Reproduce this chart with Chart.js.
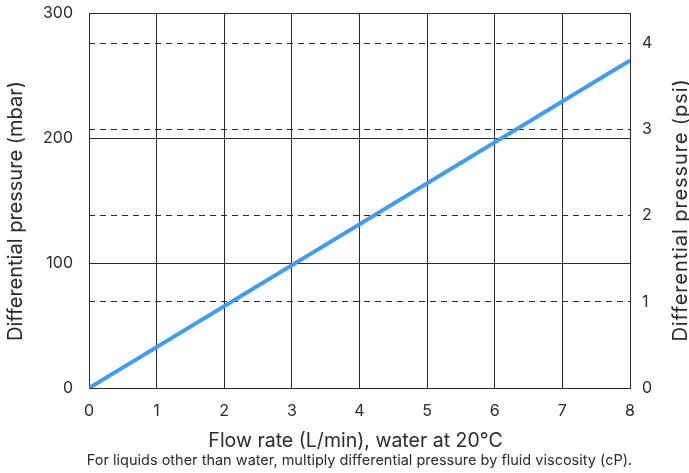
<!DOCTYPE html>
<html>
<head>
<meta charset="utf-8">
<script src="https://cdn.jsdelivr.net/npm/chart.js@4/dist/chart.umd.min.js"></script>
<style>
  html, body { margin: 0; padding: 0; background: #fff; }
  #wrap { width: 689px; height: 473px; }
</style>
</head>
<body>
<div id="wrap"><canvas id="c"></canvas></div>
<script>
// data
var flowRate = [0, 8];          // L/min
var pressure = [0, 262];        // mbar
var mbarTicks = [0, 100, 200, 300];
var psiTicks = [0, 1, 2, 3, 4];
var flowTicks = [0, 1, 2, 3, 4, 5, 6, 7, 8];
var MBAR_PER_PSI = 68.9476;

var ink = '#2b2b2b';
var fontFam = 'Inter, "Noto Sans", sans-serif';

// axis titles + footnote drawn by hand (right title reads bottom-to-top,
// and the footnote sits centred under the plot, not the canvas)
function txt(ctx, s, x, y, size, rot, spacing) {
    ctx.save();
    ctx.translate(x, y);
    if (rot) ctx.rotate(rot);
    ctx.fillStyle = ink;
    ctx.font = size + 'px ' + fontFam;
    if (spacing) ctx.letterSpacing = spacing;
    ctx.textAlign = 'center';
    ctx.textBaseline = 'alphabetic';
    ctx.fillText(s, 0, 0);
    ctx.restore();
}

var titles = {
    id: 'titles',
    afterDraw: function (chart) {
        var ctx = chart.ctx;
        var a = chart.chartArea;
        var mid = (a.left + a.right) / 2;
        txt(ctx, 'Differential pressure (mbar)', 22, 211, 20, -Math.PI / 2);
        txt(ctx, 'Differential pressure (psi)', 687, 210, 20, -Math.PI / 2, '0.9px');
        txt(ctx, 'Flow rate (L/min), water at 20°C', mid - 4, 447, 19.5);
        txt(ctx, 'For liquids other than water, multiply differential pressure by fluid viscosity (cP).', mid, 465, 14.5);
    }
};

function fixBox(w, h) {
    return function (s) {
        if (w) s.width = w;
        if (h) s.height = h;
        s.paddingTop = 0; s.paddingBottom = 0;
        s.paddingLeft = 0; s.paddingRight = 0;
    };
}

var pts = flowRate.map(function (x, i) { return {x: x, y: pressure[i]}; });

new Chart(document.getElementById('c'), {
    type: 'line',
    data: {
        datasets: [{
            data: pts,
            borderColor: '#3d9cf5',
            borderWidth: 4,
            pointRadius: 0,
            tension: 0,
            yAxisID: 'y'
        }]
    },
    options: {
        responsive: true,
        maintainAspectRatio: false,
        animation: false,
        layout: { padding: { top: 13, right: 0, left: 0, bottom: 0 } },
        plugins: {
            legend: { display: false },
            tooltip: { enabled: false }
        },
        scales: {
            x: {
                type: 'linear',
                min: 0,
                max: 8,
                afterBuildTicks: function (s) { s.ticks = flowTicks.map(function (v) { return {value: v}; }); },
                afterFit: fixBox(0, 85),
                grid: { color: ink, lineWidth: 1, drawTicks: false },
                border: { color: ink, width: 1 },
                ticks: { color: ink, padding: 14, maxRotation: 0, font: { size: 16, family: fontFam } }
            },
            y: {
                position: 'left',
                min: 0,
                max: 300,
                afterBuildTicks: function (s) { s.ticks = mbarTicks.map(function (v) { return {value: v}; }); },
                afterFit: fixBox(89, 0),
                grid: { color: ink, lineWidth: 1, drawTicks: false },
                border: { color: ink, width: 1 },
                ticks: { color: ink, padding: 16, font: { size: 16, family: fontFam } }
            },
            y2: {
                position: 'right',
                min: 0,
                max: 300 / MBAR_PER_PSI,
                afterBuildTicks: function (s) { s.ticks = psiTicks.map(function (v) { return {value: v}; }); },
                afterFit: fixBox(59, 0),
                grid: {
                    drawTicks: false,
                    lineWidth: 1,
                    color: function (c) { return c.tick && c.tick.value === 0 ? 'rgba(0,0,0,0)' : ink; }
                },
                border: { display: false, dash: [6, 5] },
                ticks: { color: ink, padding: 12, font: { size: 16, family: fontFam } }
            }
        }
    },
    plugins: [titles]
});
</script>
</body>
</html>
